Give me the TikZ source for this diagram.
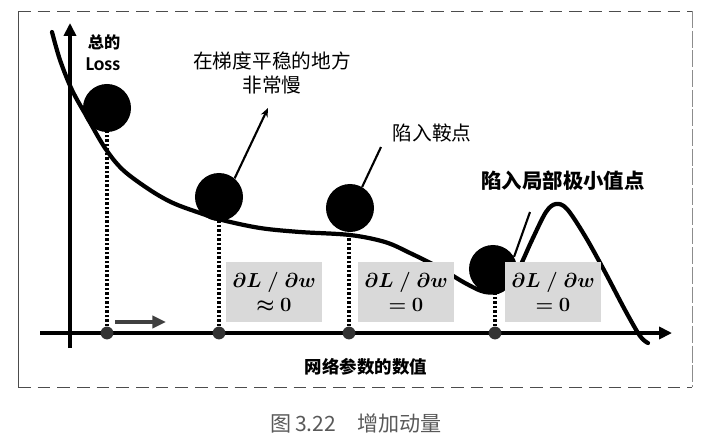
\documentclass[tikz,border=0pt]{standalone}
\usepackage{amsmath,bm}
\usepackage{fontspec}
\setsansfont{Carlito}
\newfontfamily\cjk{Noto Sans CJK SC}
\usetikzlibrary{arrows.meta}

\tikzset{
        ball/.style = {circle,fill=black,minimum size=1.2cm,inner sep=0pt},
        tick/.style = {circle,fill=black!80,minimum size=0.32cm,inner sep=0pt},
        gradbox/.style = {rectangle,fill=black!15,minimum width=2.4cm,minimum height=1.48cm,inner sep=0pt,align=center,font=\fontsize{14pt}{17.5pt}\selectfont},
        note/.style = {align=center,inner sep=1pt,font=\cjk\fontsize{14pt}{16.5pt}\selectfont},
        pointer/.style = {line width=1.5pt},
        drop/.style = {line width=2.3pt,dash pattern=on 1.8pt off 1.4pt},
        axis/.style = {line width=2.8pt,-{Triangle[length=0.32cm,width=0.3cm]}},
        lossline/.style = {line width=3pt,line cap=round},
        frame/.style = {line width=0.6pt,black!70}
    }

\begin{document}
\begin{tikzpicture}[x=0.025cm,y=-0.025cm]
            \useasboundingbox (0,0) rectangle (724,435);

            \draw[frame] (18,11) -- (18,387);
            \draw[frame,dash pattern=on 9pt off 5pt] (18,11) -- (692,11);
            \draw[frame,dash pattern=on 9pt off 5pt] (18,387) -- (692,387);
            \draw[frame,black!45,dash pattern=on 12pt off 2pt] (692,11) -- (692,387);

            \draw[lossline] plot[smooth,tension=0.55] coordinates {(52,32) (60,60) (72,90) (87,117) (105,148) (123,170) (150,190) (173,203) (200,213) (222,220) (260,228) (300,232) (350,235) (385,242) (410,253) (440,268) (465,283) (485,292) (502,290) (517,272) (532,240) (546,212) (556,204) (567,209) (585,236) (605,272) (625,310) (640,336) (648,343)};

            \node[ball] (b1) at (107,108) {};
            \node[ball] (b2) at (219,197) {};
            \node[ball] (b3) at (350,208) {};
            \node[ball] (b4) at (493,269) {};

            \coordinate (p1) at (268,108);
            \coordinate (p2) at (381,147);
            \coordinate (p3) at (530,212);
            \draw[pointer,-{Stealth[length=0.22cm,width=0.18cm]}] (b2.50) -- (p1);
            \draw[pointer] (b3.60) -- (p2);
            \draw[pointer] (b4.30) -- (p3);

            \node[gradbox] (g1) at (274,292) {$\bm{\partial L \;/\; \partial w}$\\$\bm{\approx 0}$};
            \node[gradbox] (g2) at (406,292) {$\bm{\partial L \;/\; \partial w}$\\$\bm{= 0}$};
            \node[gradbox] (g3) at (553,292) {$\bm{\partial L \;/\; \partial w}$\\$\bm{= 0}$};

            \coordinate (xs) at (40,333);
            \coordinate (xe) at (672,333);
            \coordinate (ys) at (70,348);
            \coordinate (ye) at (70,23);
            \draw[axis] (xs) -- (xe);
            \draw[axis] (ys) -- (ye);

            \node[tick] (t1) at (107,333) {};
            \node[tick] (t2) at (219,333) {};
            \node[tick] (t3) at (349,333) {};
            \node[tick] (t4) at (495,333) {};
            \draw[drop] (t1) -- (t1 |- b1.south);
            \draw[drop] (t2) -- (t2 |- b2.south);
            \draw[drop] (t3) -- (t3 |- b3.south);
            \draw[drop] (t4) -- (t4 |- b4.south);

            \coordinate (m1) at (115,322);
            \coordinate (m2) at (166,322);
            \draw[black!75,line width=2.6pt,-{Triangle[length=0.34cm,width=0.3cm]}] (m1) -- (m2);

            \node[note,font=\cjk\bfseries\fontsize{11.5pt}{13pt}\selectfont] (total) at (104,42) {总的};
            \node[font=\sffamily\bfseries\fontsize{14pt}{16pt}\selectfont] (loss) at (103,64) {Loss};
            \node[note] (slow) at (272,73) {在梯度平稳的地方\\非常慢};
            \node[note] (saddle) at (432,133) {陷入鞍点};
            \node[note,font=\cjk\bfseries\fontsize{14.5pt}{17pt}\selectfont] (local) at (563,181) {陷入局部极小值点};
            \node[note,font=\cjk\bfseries\fontsize{12.4pt}{14pt}\selectfont] (xname) at (366,367) {网络参数的数值};
            \node[note,text=black!65,font=\cjk\fontsize{15pt}{17pt}\selectfont] (caption) at (356,423) {图\,3.22\quad 增加动量};
        \end{tikzpicture}
\end{document}
